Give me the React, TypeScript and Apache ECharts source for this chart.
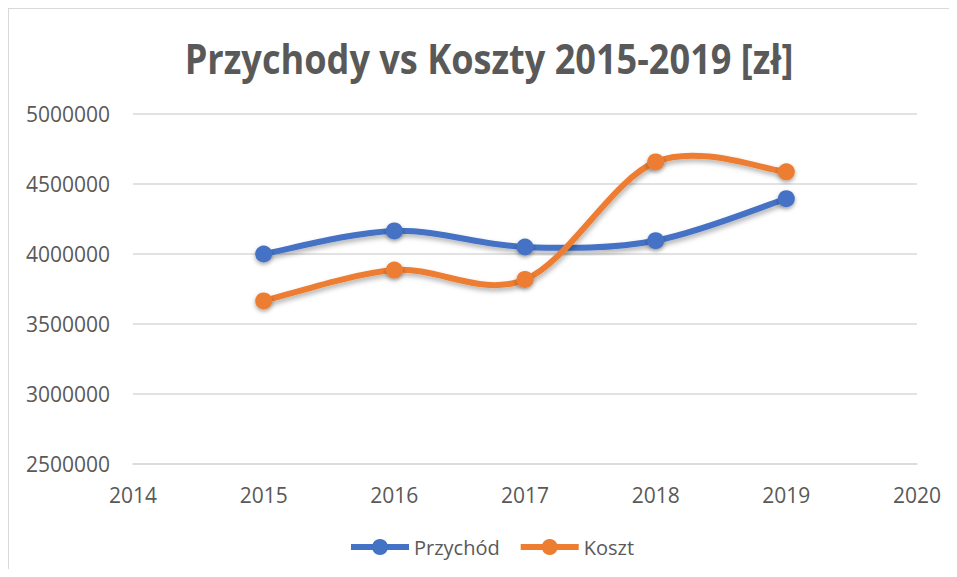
import React, { useEffect, useRef } from "react";
import * as echarts from "echarts";

const years = [2015, 2016, 2017, 2018, 2019];
const przychod = [4000000, 4165000, 4050000, 4095000, 4395000];
const koszt = [3665000, 3885000, 3818000, 4658000, 4587000];
const titleText = "Przychody vs Koszty 2015-2019 [zł]";
const seriesNames = ["Przychód", "Koszt"];
const colors = ["#4472C4", "#ED7D31"];

const FONT = "'Open Sans', sans-serif";
const GRAY = "#595959";
const K = 1 / 6;

const curveSeries = (name: string, vals: number[], color: string) => ({
  name: name + "-curve",
  type: "custom",
  data: years.slice(0, -1).map((y, i) => [y, vals[i]]),
  encode: { x: 0, y: 1 },
  silent: true,
  renderItem: (params: any, api: any) => {
    const i = params.dataIndex;
    const pts = years.map((y, j) => api.coord([y, vals[j]]));
    const p0 = pts[i];
    const p1 = pts[i + 1];
    const prev = i > 0 ? pts[i - 1] : p0;
    const next = i + 2 < pts.length ? pts[i + 2] : p1;
    return {
      type: "bezierCurve",
      shape: {
        x1: p0[0],
        y1: p0[1],
        cpx1: p0[0] + (p1[0] - prev[0]) * K,
        cpy1: p0[1] + (p1[1] - prev[1]) * K,
        cpx2: p1[0] - (next[0] - p0[0]) * K,
        cpy2: p1[1] - (next[1] - p0[1]) * K,
        x2: p1[0],
        y2: p1[1],
      },
      style: {
        stroke: color,
        fill: null,
        lineWidth: 6,
        lineCap: "round",
        shadowColor: "rgba(0,0,0,0.3)",
        shadowBlur: 5,
        shadowOffsetY: 3,
        shadowOffsetX: 1,
      },
    };
  },
});

const markerSeries = (name: string, vals: number[], color: string) => ({
  name,
  type: "line",
  data: years.map((y, i) => [y, vals[i]]),
  symbol: "circle",
  symbolSize: 17,
  lineStyle: { width: 6, color, opacity: 0 },
  itemStyle: {
    color,
    shadowColor: "rgba(0,0,0,0.35)",
    shadowBlur: 4,
    shadowOffsetY: 2,
  },
  emphasis: { disabled: true },
});

export default function App() {
  const ref = useRef<HTMLDivElement>(null);
  useEffect(() => {
    if (!ref.current) return;
    const chart = echarts.init(ref.current, undefined, { renderer: "svg" });
    chart.setOption({
      animation: false,
      graphic: [
        {
          type: "text",
          x: 480,
          y: 48,
          scaleX: 0.86,
          style: {
            text: titleText,
            font: `bold 42px ${FONT}`,
            fill: GRAY,
            textAlign: "center",
            textVerticalAlign: "middle",
          },
        },
      ],
      legend: {
        data: seriesNames.map((n, i) => ({
          name: n,
          lineStyle: { color: colors[i], width: 6, opacity: 1 },
          itemStyle: { color: colors[i] },
        })),
        left: 334,
        top: 523,
        itemWidth: 58,
        itemHeight: 20,
        itemGap: 18,
        textStyle: { fontFamily: FONT, fontSize: 20, color: GRAY },
      },
      grid: { left: 124, right: 33, top: 105, bottom: 105, containLabel: false },
      xAxis: {
        type: "value",
        min: 2014,
        max: 2020,
        interval: 1,
        axisLine: { show: true, lineStyle: { color: "#d9d9d9", width: 1.5 } },
        axisTick: { show: false },
        splitLine: { show: false },
        axisLabel: {
          margin: 20,
          fontFamily: FONT,
          fontSize: 21,
          color: GRAY,
          formatter: (v: number) => String(v),
        },
      },
      yAxis: {
        type: "value",
        min: 2500000,
        max: 5000000,
        interval: 500000,
        axisLine: { show: false },
        axisTick: { show: false },
        splitLine: { lineStyle: { color: "#d9d9d9", width: 1.5 } },
        axisLabel: {
          margin: 23,
          fontFamily: FONT,
          fontSize: 21,
          color: GRAY,
          formatter: (v: number) => String(v),
        },
      },
      series: [
        curveSeries(seriesNames[0], przychod, colors[0]),
        markerSeries(seriesNames[0], przychod, colors[0]),
        curveSeries(seriesNames[1], koszt, colors[1]),
        markerSeries(seriesNames[1], koszt, colors[1]),
      ],
    });
    return () => chart.dispose();
  }, []);
  return (
    <div
      ref={ref}
      style={{
        width: 941,
        height: 560,
        borderTop: "1px solid #d9d9d9",
        borderLeft: "1px solid #d9d9d9",
        background: "#fff",
      }}
    />
  );
}
